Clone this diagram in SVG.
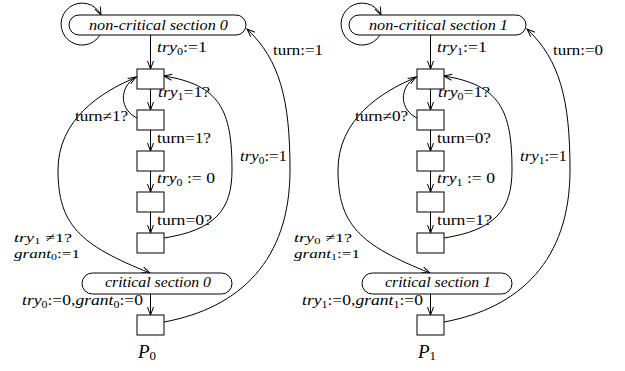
<svg xmlns="http://www.w3.org/2000/svg" width="625" height="371" viewBox="0 0 625 371">
<style>
text{font-family:'Liberation Serif','DejaVu Serif',serif;font-size:14px;fill:#000}
.it{font-style:italic}
.sub{font-size:9.5px}
.sm{font-size:13px}
.sub2{font-size:9px}
.box{fill:#fff;stroke:#000;stroke-width:1}
.arr{fill:none;stroke:#000;stroke-width:1;marker-end:url(#ah)}
.big{font-size:19px}
</style>
<defs>
<marker id="ah" markerWidth="10" markerHeight="10" viewBox="-9 -5 10 10" refX="0" refY="0" orient="auto" markerUnits="userSpaceOnUse">
<path d="M -8 -3 L 0 0 L -8 3" fill="none" stroke="#000" stroke-width="1"/>
</marker>
</defs>
<rect width="625" height="371" fill="#fff"/>

<!-- ===== P0 ===== -->
<g id="connectors0">
<path class="arr" d="M 100 35 A 21 21 0 1 1 101 15"/>
<path class="arr" d="M 150.5 35 L 150.5 69"/>
<path class="arr" d="M 150.5 89 L 150.5 110"/>
<path class="arr" d="M 150.5 130 L 150.5 151"/>
<path class="arr" d="M 150.5 171 L 150.5 192"/>
<path class="arr" d="M 150.5 212 L 150.5 233"/>
<path class="arr" d="M 150.5 294 L 150.5 315"/>
<path class="arr" d="M 137 118 C 120 110, 118 88, 136 77"/>
<path class="arr" d="M 137 77 C 100 92, 58 120, 58 170 C 58 225, 80 245, 150 273"/>
<path class="arr" d="M 164 238 C 215 230, 232 210, 232 170 C 232 110, 220 85, 164 76"/>
<path class="arr" d="M 164 322 C 240 308, 290 260, 290 170 C 290 100, 280 60, 247 29"/>
</g>
<g id="labels0">
<text x="157" y="52" textLength="50" lengthAdjust="spacingAndGlyphs"><tspan class="it">try</tspan><tspan class="sub" dy="2.5">0</tspan><tspan dy="-2.5">:=1</tspan></text>
<text x="158" y="97" textLength="52" lengthAdjust="spacingAndGlyphs"><tspan class="it">try</tspan><tspan class="sub" dy="2.5">1</tspan><tspan dy="-2.5">=1?</tspan></text>
<text x="75" y="121" textLength="53" lengthAdjust="spacingAndGlyphs">turn≠1?</text>
<text x="157" y="143" textLength="54" lengthAdjust="spacingAndGlyphs">turn=1?</text>
<text x="157" y="183" textLength="58" lengthAdjust="spacingAndGlyphs"><tspan class="it">try</tspan><tspan class="sub" dy="2.5">0</tspan><tspan dy="-2.5"> := 0</tspan></text>
<text x="157" y="225" textLength="55" lengthAdjust="spacingAndGlyphs">turn=0?</text>
<text x="240" y="161" textLength="47" lengthAdjust="spacingAndGlyphs"><tspan class="it">try</tspan><tspan class="sub" dy="2.5">0</tspan><tspan dy="-2.5">:=1</tspan></text>
<text x="273" y="55" textLength="50" lengthAdjust="spacingAndGlyphs">turn:=1</text>
<text class="sm" x="14" y="242" textLength="58" lengthAdjust="spacingAndGlyphs"><tspan class="it">try</tspan><tspan class="sub2" dy="2">1</tspan><tspan dy="-2"> ≠1?</tspan></text>
<text class="sm" x="14" y="257.5" textLength="66" lengthAdjust="spacingAndGlyphs"><tspan class="it">grant</tspan><tspan class="sub2" dy="2">0</tspan><tspan dy="-2">:=1</tspan></text>
<text x="22" y="305" textLength="121" lengthAdjust="spacingAndGlyphs"><tspan class="it">try</tspan><tspan class="sub" dy="2.5">0</tspan><tspan dy="-2.5">:=0,</tspan><tspan class="it">grant</tspan><tspan class="sub" dy="2.5">0</tspan><tspan dy="-2.5">:=0</tspan></text>
<text x="138" y="358" class="big"><tspan class="it">P</tspan><tspan font-size="13" dy="2">0</tspan></text>
</g>
<g id="ncs0"><rect class="box" x="69" y="15" width="177" height="20" rx="10"/><text class="it" x="89" y="29.5" textLength="139" lengthAdjust="spacingAndGlyphs">non-critical section 0</text></g>
<g id="p0s1"><rect class="box" x="137" y="69" width="27" height="20"/></g>
<g id="p0s2"><rect class="box" x="137" y="110" width="27" height="20"/></g>
<g id="p0s3"><rect class="box" x="137" y="151" width="27" height="20"/></g>
<g id="p0s4"><rect class="box" x="137" y="192" width="27" height="20"/></g>
<g id="p0s5"><rect class="box" x="137" y="233" width="27" height="20"/></g>
<g id="cs0"><rect class="box" x="82" y="273" width="150" height="21" rx="10.5"/><text class="it" x="105" y="287" textLength="106" lengthAdjust="spacingAndGlyphs">critical section 0</text></g>
<g id="p0s6"><rect class="box" x="137" y="315" width="27" height="20"/></g>

<!-- ===== P1 ===== -->
<g id="connectors1">
<path class="arr" d="M 380 35 A 21 21 0 1 1 381 15"/>
<path class="arr" d="M 430.5 35 L 430.5 69"/>
<path class="arr" d="M 430.5 89 L 430.5 110"/>
<path class="arr" d="M 430.5 130 L 430.5 151"/>
<path class="arr" d="M 430.5 171 L 430.5 192"/>
<path class="arr" d="M 430.5 212 L 430.5 233"/>
<path class="arr" d="M 430.5 294 L 430.5 315"/>
<path class="arr" d="M 417 118 C 400 110, 398 88, 416 77"/>
<path class="arr" d="M 417 77 C 380 92, 338 120, 338 170 C 338 225, 360 245, 430 273"/>
<path class="arr" d="M 444 238 C 495 230, 512 210, 512 170 C 512 110, 500 85, 444 76"/>
<path class="arr" d="M 444 322 C 520 308, 570 260, 570 170 C 570 100, 560 60, 527 29"/>
</g>
<g id="labels1">
<text x="437" y="52" textLength="50" lengthAdjust="spacingAndGlyphs"><tspan class="it">try</tspan><tspan class="sub" dy="2.5">1</tspan><tspan dy="-2.5">:=1</tspan></text>
<text x="438" y="97" textLength="52" lengthAdjust="spacingAndGlyphs"><tspan class="it">try</tspan><tspan class="sub" dy="2.5">0</tspan><tspan dy="-2.5">=1?</tspan></text>
<text x="355" y="121" textLength="53" lengthAdjust="spacingAndGlyphs">turn≠0?</text>
<text x="437" y="143" textLength="54" lengthAdjust="spacingAndGlyphs">turn=0?</text>
<text x="437" y="183" textLength="58" lengthAdjust="spacingAndGlyphs"><tspan class="it">try</tspan><tspan class="sub" dy="2.5">1</tspan><tspan dy="-2.5"> := 0</tspan></text>
<text x="437" y="225" textLength="55" lengthAdjust="spacingAndGlyphs">turn=1?</text>
<text x="520" y="161" textLength="47" lengthAdjust="spacingAndGlyphs"><tspan class="it">try</tspan><tspan class="sub" dy="2.5">1</tspan><tspan dy="-2.5">:=1</tspan></text>
<text x="553" y="55" textLength="50" lengthAdjust="spacingAndGlyphs">turn:=0</text>
<text class="sm" x="294" y="242" textLength="58" lengthAdjust="spacingAndGlyphs"><tspan class="it">try</tspan><tspan class="sub2" dy="2">0</tspan><tspan dy="-2"> ≠1?</tspan></text>
<text class="sm" x="294" y="257.5" textLength="66" lengthAdjust="spacingAndGlyphs"><tspan class="it">grant</tspan><tspan class="sub2" dy="2">1</tspan><tspan dy="-2">:=1</tspan></text>
<text x="302" y="305" textLength="121" lengthAdjust="spacingAndGlyphs"><tspan class="it">try</tspan><tspan class="sub" dy="2.5">1</tspan><tspan dy="-2.5">:=0,</tspan><tspan class="it">grant</tspan><tspan class="sub" dy="2.5">1</tspan><tspan dy="-2.5">:=0</tspan></text>
<text x="418" y="358" class="big"><tspan class="it">P</tspan><tspan font-size="13" dy="2">1</tspan></text>
</g>
<g id="ncs1"><rect class="box" x="349" y="15" width="177" height="20" rx="10"/><text class="it" x="369" y="29.5" textLength="139" lengthAdjust="spacingAndGlyphs">non-critical section 1</text></g>
<g id="p1s1"><rect class="box" x="417" y="69" width="27" height="20"/></g>
<g id="p1s2"><rect class="box" x="417" y="110" width="27" height="20"/></g>
<g id="p1s3"><rect class="box" x="417" y="151" width="27" height="20"/></g>
<g id="p1s4"><rect class="box" x="417" y="192" width="27" height="20"/></g>
<g id="p1s5"><rect class="box" x="417" y="233" width="27" height="20"/></g>
<g id="cs1"><rect class="box" x="362" y="273" width="150" height="21" rx="10.5"/><text class="it" x="385" y="287" textLength="106" lengthAdjust="spacingAndGlyphs">critical section 1</text></g>
<g id="p1s6"><rect class="box" x="417" y="315" width="27" height="20"/></g>
</svg>
